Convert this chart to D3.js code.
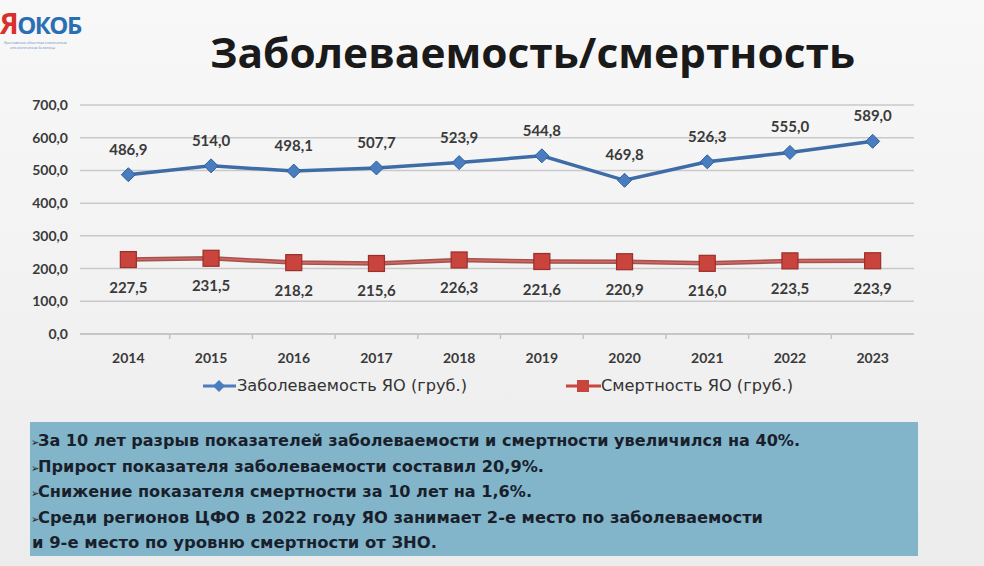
<!DOCTYPE html>
<html><head><meta charset="utf-8">
<script src="https://cdn.jsdelivr.net/npm/d3@7"></script>
<style>
html,body{margin:0;padding:0;}
body{width:984px;height:566px;overflow:hidden;background:#f1f1f1;}
</style></head>
<body>
<svg id="c" width="984" height="566"></svg>
<script>
const years = ["2014","2015","2016","2017","2018","2019","2020","2021","2022","2023"];
const incidence = [486.9,514.0,498.1,507.7,523.9,544.8,469.8,526.3,555.0,589.0];
const mortality = [227.5,231.5,218.2,215.6,226.3,221.6,220.9,216.0,223.5,223.9];
const yTicks = [0,100,200,300,400,500,600,700];
const seriesNames = ["Заболеваемость ЯО (груб.)","Смертность ЯО (груб.)"];
const title = "Заболеваемость/смертность";
const notes = [
 "За 10 лет разрыв показателей заболеваемости и смертности увеличился на 40%.",
 "Прирост показателя заболеваемости составил 20,9%.",
 "Снижение показателя смертности за 10 лет на 1,6%.",
 "Среди регионов  ЦФО в 2022 году ЯО занимает 2-е место по заболеваемости",
 "и 9-е место по уровню смертности от ЗНО."
];
const noteWidths = [762, 506, 494, 725, 405];

const svg = d3.select("#c");
const defs = svg.append("defs");
const bg = defs.append("linearGradient").attr("id","bg").attr("x1",0).attr("y1",0).attr("x2",0).attr("y2",1);
bg.append("stop").attr("offset","0").attr("stop-color","#f8f8f8");
bg.append("stop").attr("offset","1").attr("stop-color","#ececec");
svg.append("rect").attr("width",984).attr("height",566).attr("fill","url(#bg)");

// logo
const logo = svg.append("g").attr("font-family","Open Sans, DejaVu Sans, sans-serif").attr("font-weight",700);
const lt = logo.append("text").attr("x",0).attr("y",34).attr("font-size",24).attr("letter-spacing",-1.5);
lt.append("tspan").attr("fill","#d8312b").attr("font-size",28).text("Я");
lt.append("tspan").attr("fill","#2a6fb3").text("ОКОБ");
logo.append("text").attr("x",4).attr("y",44).attr("font-size",3.5).attr("font-weight",400).attr("fill","#6a8fc0").text("Ярославская областная клиническая");
logo.append("text").attr("x",10).attr("y",49).attr("font-size",3.5).attr("font-weight",400).attr("fill","#6a8fc0").text("онкологическая больница");

// title
svg.append("text").attr("x",210).attr("y",68)
  .attr("font-family","Open Sans, sans-serif").attr("font-weight",700).attr("font-size",41)
  .attr("textLength",645).attr("lengthAdjust","spacingAndGlyphs")
  .attr("fill","#1a1a1a").text(title);

const m = {left:87, right:914, top:105, bottom:334};
const x = d3.scaleBand().domain(years).range([m.left,m.right]);
const y = d3.scaleLinear().domain([0,700]).range([m.bottom,m.top]);
const cx = d => x(d)+x.bandwidth()/2;

const font = "Lato, Open Sans, sans-serif";
// grid
svg.append("g").selectAll("line").data(yTicks).join("line")
  .attr("x1",80).attr("x2",m.right).attr("y1",d=>y(d)).attr("y2",d=>y(d))
  .attr("stroke",d=>d===0?"#b8b8b8":"#c9c9c9").attr("stroke-width",1.5);
const yAxis = d3.axisLeft(y).tickValues(yTicks).tickFormat(d=>d3.format(".1f")(d).replace(".",",")).tickSize(0).tickPadding(12);
const ya = svg.append("g").attr("transform",`translate(${80},0)`).call(yAxis);
ya.select(".domain").remove();
ya.selectAll("text").attr("font-family",font).attr("font-weight",700).attr("font-size",14).attr("fill","#3a3a3a");

const xAxis = d3.axisBottom(x).tickSize(0).tickPadding(19);
const xa = svg.append("g").attr("transform",`translate(0,${m.bottom})`).call(xAxis);
xa.select(".domain").remove();
xa.selectAll("text").attr("font-family",font).attr("font-weight",700).attr("font-size",14).attr("fill","#3a3a3a");
// small category tick marks
svg.append("g").selectAll("line").data(years.slice(1)).join("line")
  .attr("x1",d=>x(d)).attr("x2",d=>x(d)).attr("y1",m.bottom).attr("y2",m.bottom+5)
  .attr("stroke","#c4c4c4").attr("stroke-width",1.5);

const line = d3.line().x((d,i)=>cx(years[i])).y(d=>y(d));
// mortality line
svg.append("path").datum(mortality).attr("d",line).attr("fill","none").attr("stroke","#8c2a26").attr("stroke-width",4.5).attr("opacity",0.8);
svg.append("path").datum(mortality).attr("d",line).attr("fill","none").attr("stroke","#d46560").attr("stroke-width",1.6);
svg.append("g").selectAll("rect").data(mortality).join("rect")
  .attr("x",(d,i)=>cx(years[i])-8).attr("y",d=>y(d)-8).attr("width",16).attr("height",16)
  .attr("fill","#c8443d").attr("stroke","#9b2f2a").attr("stroke-width",1.2);
// incidence line
svg.append("path").datum(incidence).attr("d",line).attr("fill","none").attr("stroke","#3d6ca6").attr("stroke-width",3.5);
svg.append("g").selectAll("path.dm").data(incidence).join("path").attr("class","dm")
  .attr("d",(d,i)=>{const X=cx(years[i]),Y=y(d);return `M${X},${Y-7}L${X+7},${Y}L${X},${Y+7}L${X-7},${Y}Z`;})
  .attr("fill","#4a7cc0").attr("stroke","#2f5f99").attr("stroke-width",1);

const fmt = d=>d3.format(".1f")(d).replace(".",",");
svg.append("g").selectAll("text").data(incidence).join("text")
  .attr("x",(d,i)=>cx(years[i])).attr("y",d=>y(d)-20).attr("text-anchor","middle")
  .attr("font-family",font).attr("font-weight",700).attr("font-size",15).attr("fill","#3a3a3a").text(fmt);
svg.append("g").selectAll("text").data(mortality).join("text")
  .attr("x",(d,i)=>cx(years[i])).attr("y",d=>y(d)+33).attr("text-anchor","middle")
  .attr("font-family",font).attr("font-weight",700).attr("font-size",15).attr("fill","#3a3a3a").text(fmt);

// legend
const lg = svg.append("g").attr("font-family","DejaVu Sans Condensed, Lato, sans-serif").attr("font-size",15).attr("fill","#333");
lg.append("line").attr("x1",203).attr("x2",236).attr("y1",386).attr("y2",386).attr("stroke","#4a7cc0").attr("stroke-width",3);
lg.append("path").attr("d","M219,380L225,386L219,392L213,386Z").attr("fill","#4a7cc0");
lg.append("text").attr("x",237).attr("y",391).attr("textLength",230).attr("lengthAdjust","spacingAndGlyphs").text(seriesNames[0]);
lg.append("line").attr("x1",566).attr("x2",601).attr("y1",386).attr("y2",386).attr("stroke","#c8443d").attr("stroke-width",3);
lg.append("rect").attr("x",577).attr("y",380).attr("width",12).attr("height",12).attr("fill","#c8443d");
lg.append("text").attr("x",601).attr("y",391).attr("textLength",192).attr("lengthAdjust","spacingAndGlyphs").text(seriesNames[1]);

// notes box
svg.append("rect").attr("x",30).attr("y",422).attr("width",888).attr("height",134).attr("fill","#82b5ca");
const nt = svg.append("g").attr("font-family","DejaVu Sans Condensed, sans-serif").attr("font-weight",700).attr("font-size",16).attr("fill","#1a1f2c");
notes.forEach((t,i)=>{
  nt.append("text").attr("x",i<4?38:32).attr("y",446+i*25.5)
    .attr("textLength",noteWidths[i]).attr("lengthAdjust","spacingAndGlyphs").text(t);
  if(i<4) nt.append("text").attr("x",31).attr("y",446+i*25.5).text("➢").attr("font-size",11);
});
</script>
</body></html>
